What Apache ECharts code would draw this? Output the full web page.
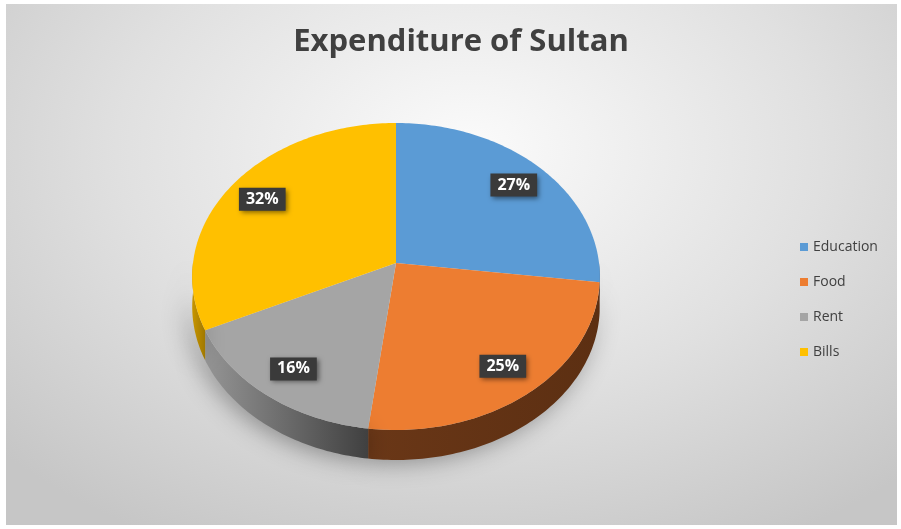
<!DOCTYPE html>
<html>
<head>
<meta charset="utf-8">
<script src="https://cdn.jsdelivr.net/npm/echarts@6/dist/echarts.min.js"></script>
<style>
  html, body { margin: 0; padding: 0; background: #fff; }
  #bg { position: absolute; left: 6px; top: 4px; width: 891px; height: 521px;
        background: radial-gradient(ellipse 72% 85% at 52% 28%, #fbfbfb 0%, #e0e0e0 55%, #c6c6c6 100%); }
  #chart { position: absolute; left: 0; top: 0; width: 901px; height: 529px; }
</style>
</head>
<body>
<div id="bg"></div>
<div id="chart"></div>
<script>
// data
var categories = ['Education', 'Food', 'Rent', 'Bills'];
var values = [27, 25, 16, 32];

// colours: top face, side wall (light -> dark)
var topColors = ['#5b9bd5', '#ed7d31', '#a5a5a5', '#ffc000'];
var sideColors = [['#3d6f9f', '#2e5a85'], ['#6a3717', '#5c2f12'], ['#959595', '#404040'], ['#c79500', '#a07800']];

var total = values.reduce(function (a, b) { return a + b; }, 0);
var starts = [];
var acc = 0;
values.forEach(function (v) { starts.push(acc / total * 360); acc += v; });

// tilted pie with a bit of perspective (far side smaller)
var CX = 396, CY = 263, RX = 203, RY = 152.3, PERSP = 0.088, DEPTH = 30;

function pt(deg, f) {
  var r = deg * Math.PI / 180;
  var u = Math.sin(r) * f, v = Math.cos(r) * f;
  var s = 1 / (1 + PERSP * v);
  return [CX + RX * u * s, CY - RY * v * s];
}

function makeRender(i) {
  return function (params, api) {
    var v = api.value(0);
    var a0 = starts[i], a1 = a0 + v / total * 360;
    var children = [];
    var a;

    // side wall, only the front half is visible
    var s0 = Math.max(a0, 90), s1 = Math.min(a1, 270);
    if (s1 > s0) {
      var rim = [];
      for (a = s0; a < s1; a += 1) rim.push(pt(a, 1));
      rim.push(pt(s1, 1));
      var low = rim.slice().reverse().map(function (p) { return [p[0], p[1] + DEPTH]; });
      children.push({
        type: 'polygon',
        shape: { points: rim.concat(low) },
        style: {
          fill: new echarts.graphic.LinearGradient(0, 0, 1, 0, [
            { offset: 0, color: sideColors[i][0] },
            { offset: 1, color: sideColors[i][1] }
          ]),
          shadowBlur: 24,
          shadowColor: 'rgba(0,0,0,0.38)',
          shadowOffsetX: -5,
          shadowOffsetY: 2
        }
      });
    }

    // top face
    var tp = [[CX, CY]];
    for (a = a0; a < a1; a += 1) tp.push(pt(a, 1));
    tp.push(pt(a1, 1));
    children.push({
      type: 'polygon',
      shape: { points: tp },
      style: { fill: topColors[i] }
    });

    // data label
    var lp = pt((a0 + a1) / 2, 0.81);
    children.push({
      type: 'text',
      x: lp[0],
      y: lp[1],
      z2: 10,
      style: {
        text: Math.round(v / total * 100) + '%',
        fill: '#ffffff',
        font: 'bold 16px "Open Sans"',
        align: 'center',
        verticalAlign: 'middle',
        backgroundColor: '#3a3a3a',
        padding: [4, 7, 3, 7],
        shadowBlur: 5,
        shadowColor: 'rgba(0,0,0,0.5)',
        shadowOffsetX: 2,
        shadowOffsetY: 2
      }
    });

    return { type: 'group', children: children };
  };
}

var series = [];
for (var i = 0; i < categories.length; i++) {
  series.push({
    name: categories[i],
    type: 'custom',
    coordinateSystem: 'none',
    itemStyle: { color: topColors[i] },
    renderItem: makeRender(i),
    data: [[values[i]]]
  });
}

var chart = echarts.init(document.getElementById('chart'));
chart.setOption({
  animation: false,
  title: {
    text: 'Expenditure of Sultan',
    left: 456,
    textAlign: 'center',
    top: 22,
    textStyle: { fontFamily: 'Open Sans', fontWeight: 'bold', fontSize: 31, color: '#404040' }
  },
  legend: {
    orient: 'vertical',
    left: 795,
    top: 235,
    icon: 'rect',
    itemWidth: 8,
    itemHeight: 8,
    itemGap: 21,
    textStyle: { fontFamily: 'Open Sans', fontSize: 14, color: '#404040' },
    data: categories
  },
  series: series
});
</script>
</body>
</html>
